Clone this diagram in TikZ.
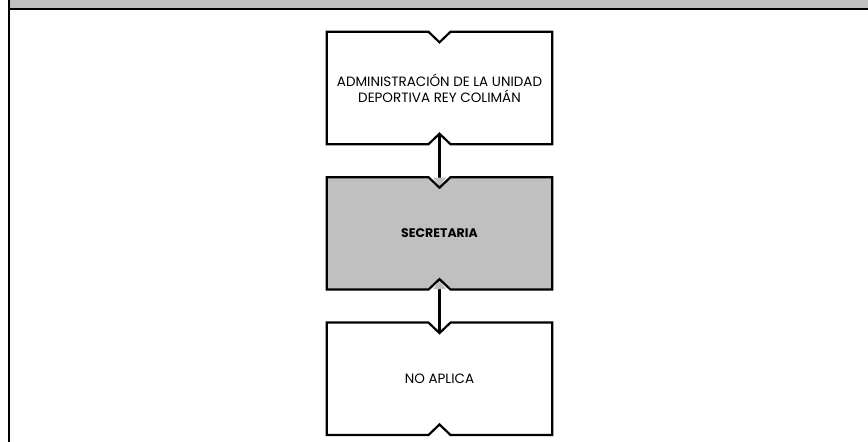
\documentclass[tikz,border=0pt]{standalone}
\usepackage{fontspec}
\setmainfont{Poppins}
\usepackage{tikz}
\usetikzlibrary{positioning}
\usetikzlibrary{calc}
\usetikzlibrary{arrows.meta}
\usetikzlibrary{backgrounds}

\definecolor{cellgray}{HTML}{C0C0C0}

\tikzset{
    orgbox/.style={minimum width=225pt,minimum height=112pt,inner sep=0pt,align=center,
        font=\fontsize{13.5}{16}\selectfont},
    outline/.style={line width=2.2pt,line join=miter},
    link/.style={line width=2.2pt,-{Triangle[length=10pt,width=12pt,color=cellgray]}},
    frameline/.style={line width=2.5pt}
}

\newcommand{\notchedbox}[2]{%
    \draw[outline,fill=#2] (#1.north west) -- ($(#1.north)+(-11,0)$) -- ($(#1.north)+(0,-10.5)$)
        -- ($(#1.north)+(11,0)$) -- (#1.north east) -- (#1.south east)
        -- ($(#1.south)+(11,0)$) -- ($(#1.south)+(0,10.5)$) -- ($(#1.south)+(-11,0)$)
        -- (#1.south west) -- cycle;}

\begin{document}
\begin{tikzpicture}[x=1pt,y=1pt]
    \useasboundingbox (0,0) rectangle (868,442);

    \fill[cellgray] (9,433) rectangle (870,444);
    \draw[frameline] (9,433) -- (870,433);
    \draw[frameline] (9,444) -- (9,-2);

    \node[orgbox] (adm) at (439.5,354) {ADMINISTRACIÓN DE LA UNIDAD\\DEPORTIVA REY COLIMÁN};
    \node[orgbox,below=33pt of adm] (sec) {\fontsize{12.5}{16}\selectfont\textbf{SECRETARIA}};
    \node[orgbox,below=33pt of sec] (noap) {NO APLICA};

    \coordinate (adm-bot)  at ($(adm.south)+(0,10.5)$);
    \coordinate (sec-top)  at ($(sec.north)+(0,-10.5)$);
    \coordinate (sec-bot)  at ($(sec.south)+(0,10.5)$);
    \coordinate (noap-top) at ($(noap.north)+(0,-10.5)$);

    \begin{scope}[on background layer]
        \draw[link] (adm-bot) -- (sec-top);
        \draw[link] (noap-top) -- (sec-bot);

        \notchedbox{adm}{white}
        \notchedbox{sec}{cellgray}
        \notchedbox{noap}{white}
    \end{scope}
\end{tikzpicture}
\end{document}
